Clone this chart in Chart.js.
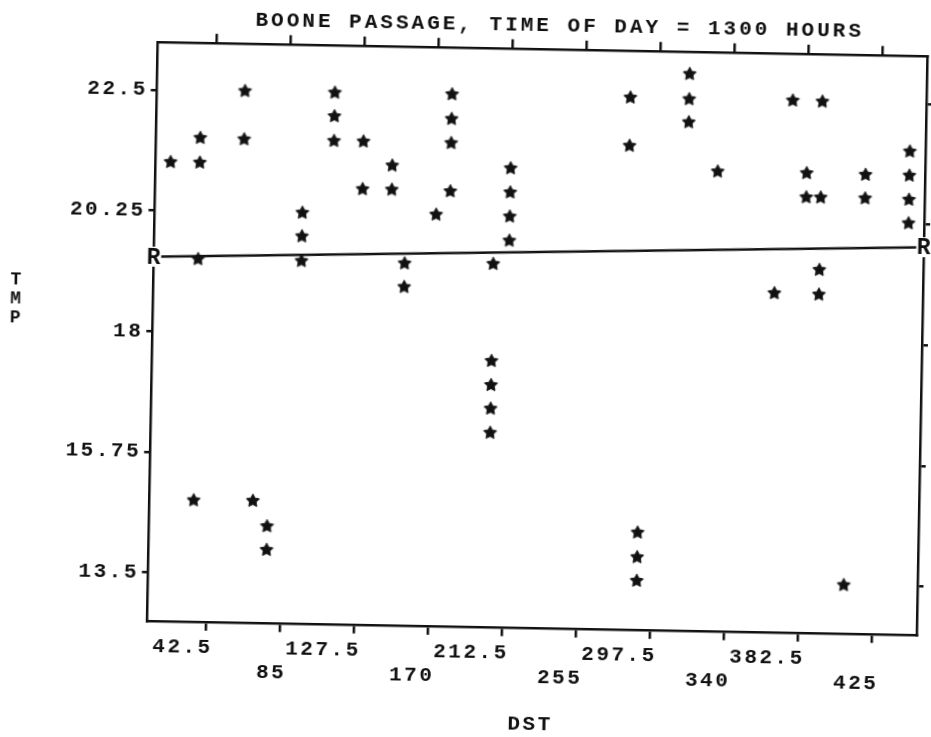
<!DOCTYPE html>
<html>
<head>
<meta charset="utf-8">
<title>Boone Passage temperature profile</title>
<script src="https://cdn.jsdelivr.net/npm/chart.js@4.4.1/dist/chart.umd.min.js"></script>
<style>
  html, body { margin: 0; padding: 0; background: #ffffff; overflow: hidden; }
  #wrap { width: 931px; height: 737px; }
  /* the printed sheet sits a little askew on the page */
  #plot { display: block; transform: rotate(1.05deg); transform-origin: 537.75px 338.25px; }
</style>
</head>
<body>
<div id="wrap"><canvas id="plot" width="931" height="737"></canvas></div>
<script>
// ---- labels ----
const chartTitle = 'BOONE PASSAGE, TIME OF DAY = 1300 HOURS';
const xAxisTitle = 'DST';
const yAxisTitle = ['T', 'M', 'P'];

// ---- tick values ----
const dstTicks = [42.5, 85, 127.5, 170, 212.5, 255, 297.5, 340, 382.5, 425];
const tmpTicks = [13.5, 15.75, 18, 20.25, 22.5];

// ---- observations: distance along the passage and temperature ----
const dstValues = [
  17.2,
  34.0, 34.0, 34.0, 34.0,
  59.2, 59.2,
  68.0,
  76.4, 76.4,
  93.4, 93.4, 93.4,
  110.8, 110.8, 110.8,
  127.7, 127.7,
  144.5, 144.5,
  152.6, 152.6,
  170.2,
  178.1, 178.1, 178.1, 178.1,
  203.5, 203.5, 203.5, 203.5, 203.5,
  212.5, 212.5, 212.5, 212.5,
  280.5, 280.5,
  289.2, 289.2, 289.2,
  314.3, 314.3, 314.3,
  331.4,
  365.2,
  373.8,
  382.5, 382.5,
  390.8, 390.8, 390.8, 390.8,
  408.1,
  416.3, 416.3,
  441.5, 441.5, 441.5, 441.5
];
const tmpValues = [
  21.16,
  21.62, 21.16, 19.36, 14.86,
  22.51, 21.61,
  14.87,
  14.40, 13.96,
  20.26, 19.82, 19.36,
  22.51, 22.07, 21.61,
  21.61, 20.72,
  21.17, 20.72,
  19.35, 18.91,
  20.27,
  22.52, 22.06, 21.61, 20.71,
  19.37, 17.56, 17.11, 16.67, 16.22,
  21.16, 20.71, 20.26, 19.81,
  22.52, 21.62,
  14.41, 13.95, 13.51,
  22.98, 22.51, 22.08,
  21.17,
  18.92,
  22.52,
  21.17, 20.72,
  22.51, 20.72, 19.37, 18.91,
  13.50,
  21.16, 20.72,
  21.61, 21.16, 20.71, 20.27
];

// ---- reference line marked "R" at both ends ----
const refDst = [8.5, 450.5];
const refTmp = [19.39, 19.83];

// ---- styling ----
const ink = '#111111';
const monoFamily = "'Liberation Mono', 'DejaVu Sans Mono', monospace";
const baseFont = { family: monoFamily, size: 21, weight: 'bold', lineHeight: 1.15 };
const spacing = '2.5px';

Chart.defaults.font.family = monoFamily;
Chart.defaults.font.weight = 'bold';
Chart.defaults.color = ink;

// filled five-pointed star used as the plotting symbol
function makeStar(size, outer, inner, color) {
  const c = document.createElement('canvas');
  c.width = size; c.height = size;
  const g = c.getContext('2d');
  g.fillStyle = color;
  g.strokeStyle = color;
  g.lineWidth = 1;
  g.lineJoin = 'round';
  g.beginPath();
  for (let i = 0; i < 10; i++) {
    const r = i % 2 ? inner : outer;
    const a = -Math.PI / 2 + i * Math.PI / 5;
    const px = size / 2 + r * Math.cos(a);
    const py = size / 2 + r * Math.sin(a);
    if (i === 0) g.moveTo(px, py); else g.lineTo(px, py);
  }
  g.closePath();
  g.fill();
  g.stroke();
  return c;
}
const starSymbol = makeStar(16, 6.8, 3.5, ink);

const fixedTicks = values => scale => { scale.ticks = values.map(v => ({ value: v })); };

// typewriter-style spacing, title, stacked axis letters and the R markers
const printerText = {
  id: 'printerText',
  beforeUpdate(chart) { chart.ctx.letterSpacing = spacing; },
  beforeDraw(chart) { chart.ctx.letterSpacing = spacing; },
  afterDatasetsDraw(chart) {
    const { ctx, scales } = chart;
    const xs = scales.x, ys = scales.y;
    ctx.save();
    ctx.fillStyle = ink;
    ctx.textBaseline = 'middle';

    // R markers at both ends of the reference line
    ctx.letterSpacing = '0px';
    ctx.font = `bold 23px ${monoFamily}`;
    ctx.textAlign = 'center';
    for (let i = 0; i < refDst.length; i++) {
      const px = xs.getPixelForValue(refDst[i]);
      const py = ys.getPixelForValue(refTmp[i]);
      ctx.fillStyle = '#ffffff';
      ctx.fillRect(px - 7.5, py - 10, 15, 20);
      ctx.fillStyle = ink;
      ctx.fillText('R', px, py + 1.5);
    }

    // chart title
    ctx.letterSpacing = '3px';
    ctx.font = `bold 21px ${monoFamily}`;
    ctx.textAlign = 'center';
    ctx.fillText(chartTitle, 554, 26);

    // vertical axis name, one letter per line
    ctx.letterSpacing = '0px';
    ctx.font = `bold 18px ${monoFamily}`;
    yAxisTitle.forEach((ch, i) => {
      ctx.fillText(ch, 15, 289.5 + i * 19);
    });

    ctx.restore();
    ctx.letterSpacing = spacing;
  }
};

new Chart(document.getElementById('plot'), {
  type: 'scatter',
  data: {
    datasets: [
      {
        type: 'line',
        label: 'R',
        data: refDst.map((v, i) => ({ x: v, y: refTmp[i] })),
        borderColor: ink,
        borderWidth: 2.5,
        pointRadius: 0,
        fill: false,
        order: 2
      },
      {
        label: 'TMP',
        data: dstValues.map((v, i) => ({ x: v, y: tmpValues[i] })),
        pointStyle: starSymbol,
        pointRadius: 8,
        backgroundColor: ink,
        borderColor: ink,
        showLine: false,
        order: 1
      }
    ]
  },
  options: {
    responsive: false,
    animation: false,
    events: [],
    layout: { padding: { top: 38.75, left: 0, right: 0, bottom: 0 } },
    plugins: {
      legend: { display: false },
      tooltip: { enabled: false },
      title: { display: false }
    },
    scales: {
      x: {
        type: 'linear', axis: 'x', position: 'bottom',
        min: 8.5, max: 450.5,
        afterBuildTicks: fixedTicks(dstTicks),
        afterFit: s => { s.height = 109.25; },
        ticks: {
          autoSkip: false, maxRotation: 0, minRotation: 0,
          align: 'end', labelOffset: 7, padding: 5,
          color: ink, font: baseFont,
          callback: (v, i) => (i % 2 ? ['', String(v)] : String(v))
        },
        grid: { drawOnChartArea: false, drawTicks: true, tickLength: 9, color: ink, lineWidth: 2.5 },
        border: { display: true, color: ink, width: 2.5 },
        title: { display: true, text: xAxisTitle, color: ink, font: baseFont, padding: 0 }
      },
      x2: {
        type: 'linear', axis: 'x', position: 'top',
        min: 8.5, max: 450.5,
        afterBuildTicks: fixedTicks(dstTicks),
        afterFit: s => { s.height = 10; },
        ticks: { display: false },
        grid: { drawOnChartArea: false, drawTicks: true, tickLength: 9, color: ink, lineWidth: 2.5 },
        border: { display: true, color: ink, width: 2.5 }
      },
      y: {
        type: 'linear', axis: 'y', position: 'left',
        min: 12.6, max: 23.4,
        afterBuildTicks: fixedTicks(tmpTicks),
        afterFit: s => { s.width = 152.25; },
        ticks: {
          autoSkip: false, padding: 3, color: ink, font: baseFont,
          callback: v => String(v)
        },
        grid: { drawOnChartArea: false, drawTicks: true, tickLength: 6, color: ink, lineWidth: 2.5 },
        border: { display: true, color: ink, width: 2.5 }
      },
      y2: {
        type: 'linear', axis: 'y', position: 'right',
        min: 12.6, max: 23.4,
        afterBuildTicks: fixedTicks(tmpTicks),
        afterFit: s => { s.width = 7.75; },
        ticks: { display: false },
        grid: { drawOnChartArea: false, drawTicks: true, tickLength: 6, color: ink, lineWidth: 2.5 },
        border: { display: true, color: ink, width: 2.5 }
      }
    }
  },
  plugins: [printerText]
});
</script>
</body>
</html>
